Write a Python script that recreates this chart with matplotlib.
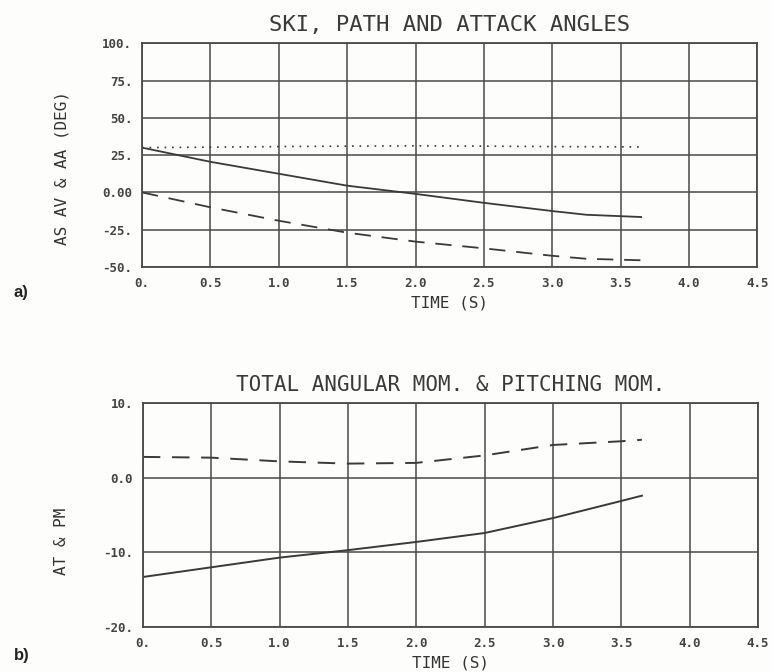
import numpy as np
import matplotlib
matplotlib.use("Agg")
import matplotlib.pyplot as plt

# panel a) ski, path and attack angles (deg)
t_a = [0.0, 0.5, 1.0, 1.5, 2.0, 2.5, 3.0, 3.25, 3.65]
ski_angle = [30.0, 20.5, 12.5, 4.5, -1.0, -7.0, -12.5, -15.0, -16.5]
path_angle = [0.0, -10.0, -19.0, -27.0, -33.0, -37.5, -42.5, -44.5, -45.5]
t_dot = [0.0, 0.5, 1.0, 1.5, 2.0, 2.5, 3.0, 3.65]
attack_angle = [30.0, 30.3, 30.7, 31.0, 31.2, 31.0, 30.7, 30.5]

# panel b) total angular momentum & pitching moment
t_b = [0.0, 0.5, 1.0, 1.5, 2.0, 2.5, 3.0, 3.5, 3.65]
ang_mom = [-13.3, -12.0, -10.7, -9.7, -8.6, -7.4, -5.4, -3.1, -2.4]
pitch_mom = [2.8, 2.7, 2.2, 1.9, 2.0, 3.0, 4.4, 4.9, 5.1]

a_yticks = [-50, -25, 0, 25, 50, 75, 100]
a_ylabels = ["-50.", "-25.", "0.00", "25.", "50.", "75.", "100."]
b_yticks = [-20, -10, 0, 10]
b_ylabels = ["-20.", "-10.", "0.0", "10."]
xticks = [0, 0.5, 1.0, 1.5, 2.0, 2.5, 3.0, 3.5, 4.0, 4.5]
xlabels = ["0.", "0.5", "1.0", "1.5", "2.0", "2.5", "3.0", "3.5", "4.0", "4.5"]

ink = "#3a3a3a"
grid_c = "#4a4a4a"
mono = "DejaVu Sans Mono"

fig = plt.figure(figsize=(7.72, 6.72), dpi=100)
fig.patch.set_facecolor("#fdfdfb")

ax1 = fig.add_axes([0.184, 0.6027, 0.797, 0.333])
ax2 = fig.add_axes([0.185, 0.067, 0.797, 0.333])


def style(ax, yticks, ylabels):
    ax.set_facecolor("#fdfdfb")
    ax.set_xlim(0, 4.5)
    ax.set_ylim(yticks[0], yticks[-1])
    ax.set_xticks(xticks)
    ax.set_xticklabels(xlabels)
    ax.set_yticks(yticks)
    ax.set_yticklabels(ylabels)
    ax.tick_params(length=0, pad=7, labelsize=9, labelcolor="#444444")
    for lab in ax.get_xticklabels() + ax.get_yticklabels():
        lab.set_family(mono)
        lab.set_weight("bold")
    ax.grid(True, color=grid_c, linewidth=1.1)
    for s in ax.spines.values():
        s.set_color(grid_c)
        s.set_linewidth(1.3)


style(ax1, a_yticks, a_ylabels)
style(ax2, b_yticks, b_ylabels)

ax1.plot(t_a, ski_angle, color=ink, lw=1.3)
ax1.plot(t_a, path_angle, color=ink, lw=1.3, dashes=(9, 6))
ax1.plot(t_dot, attack_angle, color=ink, lw=1.2, dashes=(1, 3.5))

ax2.plot(t_b, ang_mom, color=ink, lw=1.4)
ax2.plot(t_b, pitch_mom, color=ink, lw=1.4, dashes=(9, 6))

ax1.set_title("SKI, PATH AND ATTACK ANGLES", family=mono, fontsize=16,
              color="#3a3a3a", pad=9)
ax2.set_title("TOTAL ANGULAR MOM. & PITCHING MOM.", family=mono, fontsize=15,
              color="#3a3a3a", pad=9)
ax1.set_xlabel("TIME (S)", family=mono, fontsize=11.5, color="#333333", labelpad=4)
ax2.set_xlabel("TIME (S)", family=mono, fontsize=11.5, color="#333333", labelpad=4)

fig.text(0.080, 0.75, "AS AV & AA (DEG)", rotation=90, family=mono,
         fontsize=11.5, color="#333333", ha="center", va="center")
fig.text(0.080, 0.195, "AT & PM", rotation=90, family=mono,
         fontsize=11.5, color="#333333", ha="center", va="center")

fig.text(0.018, 0.564, "a)", family="Liberation Sans", weight="bold",
         fontsize=12, color="#222222", ha="left", va="center")
fig.text(0.018, 0.025, "b)", family="Liberation Sans", weight="bold",
         fontsize=12, color="#222222", ha="left", va="center")

fig.savefig("out.png", dpi=100, facecolor=fig.get_facecolor())
